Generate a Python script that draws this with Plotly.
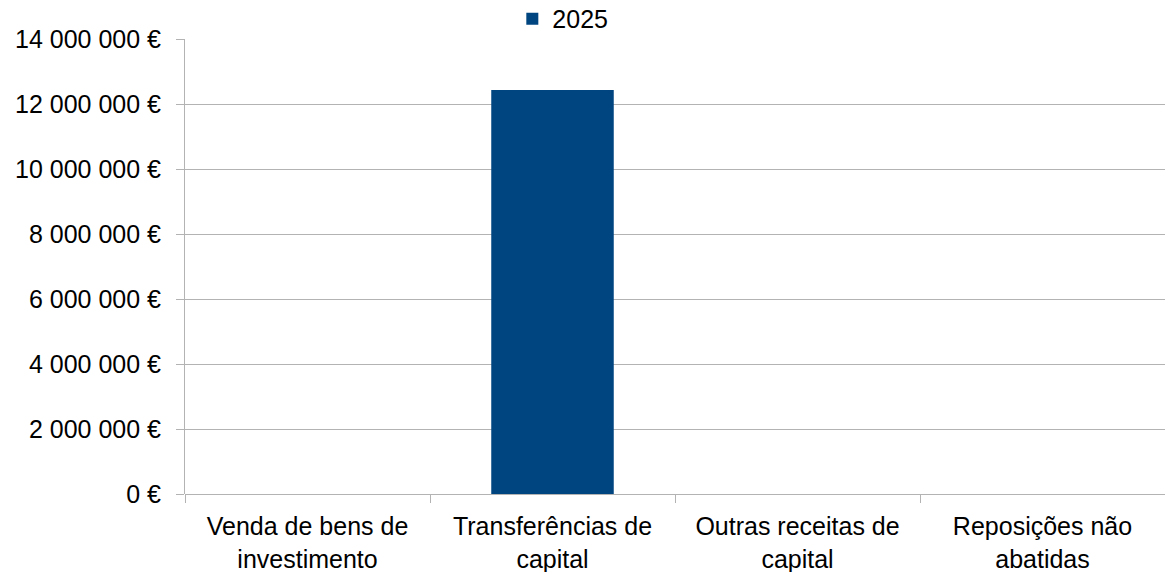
import plotly.graph_objects as go

categories = ["Venda de bens de<br>investimento", "Transferências de<br>capital",
              "Outras receitas de<br>capital", "Reposições não<br>abatidas"]
values_2025 = [0, 12430000, 0, 0]
series_name = "2025"
tick_vals = [0, 2000000, 4000000, 6000000, 8000000, 10000000, 12000000, 14000000]
tick_text = ["0 €", "2 000 000 €", "4 000 000 €", "6 000 000 €", "8 000 000 €",
             "10 000 000 €", "12 000 000 €", "14 000 000 €"]

FONT = "Liberation Sans, Arial, sans-serif"
GRID = "#b3b3b3"
FS = 25

fig = go.Figure()
fig.add_trace(go.Bar(x=categories, y=values_2025, name=series_name,
                     marker=dict(color="#00457f", line=dict(width=0)),
                     showlegend=True))

fig.update_layout(
    width=1165, height=572,
    margin=dict(l=185, r=0, t=39, b=78, pad=0, autoexpand=False),
    paper_bgcolor="white", plot_bgcolor="white",
    font=dict(family=FONT, size=FS, color="#000000"),
    bargap=0.5,
    showlegend=True,
    legend=dict(orientation="h", x=0.334, xanchor="left", y=1.044, yanchor="middle",
                font=dict(size=FS), bgcolor="rgba(0,0,0,0)", itemwidth=30),
    xaxis=dict(type="category", range=[-0.5, 3.5], showgrid=False,
               showline=False, ticks="outside", tickson="boundaries",
               ticklen=8, tickcolor=GRID, tickwidth=1, automargin=False,
               ticklabelstandoff=15,
               tickfont=dict(size=FS, family=FONT)),
    yaxis=dict(range=[0, 14000000], tickvals=tick_vals, ticktext=tick_text,
               showgrid=True, gridcolor=GRID, gridwidth=1,
               showline=True, linecolor=GRID, linewidth=1,
               ticks="outside", ticklen=8, tickcolor=GRID, automargin=False,
               ticklabelstandoff=10,
               zeroline=True, zerolinecolor=GRID, zerolinewidth=1,
               tickfont=dict(size=FS, family=FONT)),
)

fig.write_html("out.html", config={"displayModeBar": False},
               post_script="document.body.style.margin='0';")
